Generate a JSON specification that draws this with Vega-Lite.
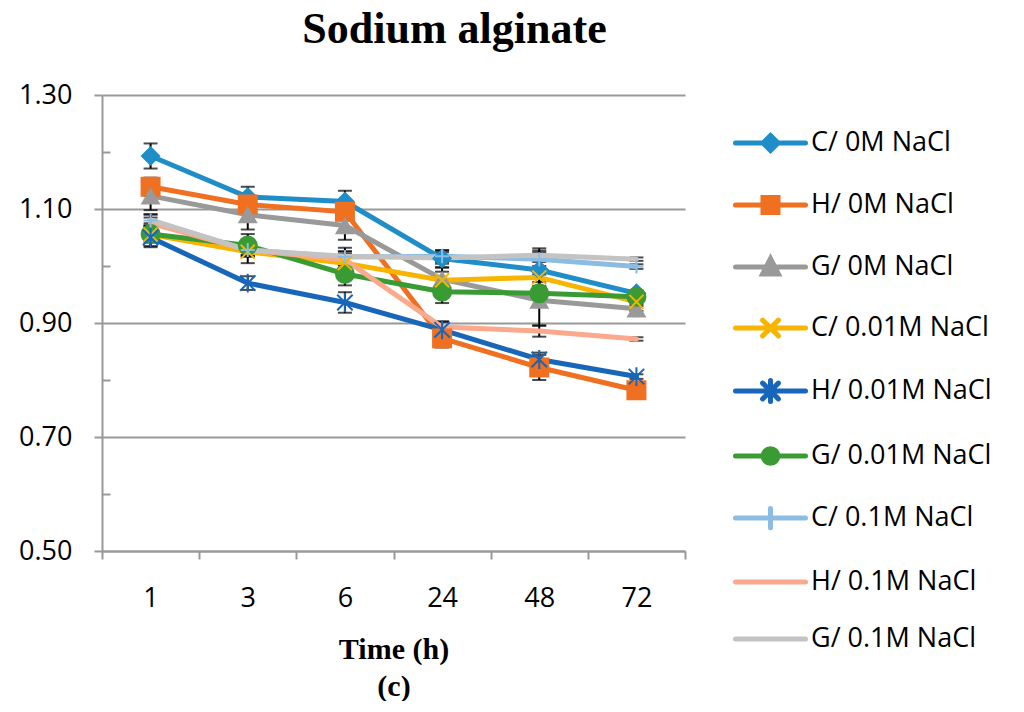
{
  "$schema": "https://vega.github.io/schema/vega-lite/v6.json",
  "width": 583,
  "height": 456,
  "padding": {"left": 18, "top": 8, "right": 0, "bottom": 0},
  "background": "white",
  "title": {
    "text": "Sodium alginate",
    "font": "Liberation Serif",
    "fontSize": 44,
    "fontWeight": "bold",
    "color": "black",
    "anchor": "middle",
    "dx": 61,
    "offset": 29
  },
  "config": {"view": {"stroke": null}},
  "data": {
    "values": [
      {"time": 1, "series": "C/ 0M NaCl", "value": 1.193, "err": 0.022},
      {"time": 3, "series": "C/ 0M NaCl", "value": 1.121, "err": 0.018},
      {"time": 6, "series": "C/ 0M NaCl", "value": 1.113, "err": 0.019},
      {"time": 24, "series": "C/ 0M NaCl", "value": 1.013, "err": 0.015},
      {"time": 48, "series": "C/ 0M NaCl", "value": 0.993, "err": 0.034},
      {"time": 72, "series": "C/ 0M NaCl", "value": 0.952, "err": 0.005},
      {"time": 1, "series": "H/ 0M NaCl", "value": 1.139, "err": 0.016},
      {"time": 3, "series": "H/ 0M NaCl", "value": 1.108, "err": 0.015},
      {"time": 6, "series": "H/ 0M NaCl", "value": 1.095, "err": 0.013},
      {"time": 24, "series": "H/ 0M NaCl", "value": 0.873, "err": 0.016},
      {"time": 48, "series": "H/ 0M NaCl", "value": 0.822, "err": 0.022},
      {"time": 72, "series": "H/ 0M NaCl", "value": 0.782, "err": 0.004},
      {"time": 1, "series": "G/ 0M NaCl", "value": 1.123, "err": 0.025},
      {"time": 3, "series": "G/ 0M NaCl", "value": 1.09, "err": 0.026},
      {"time": 6, "series": "G/ 0M NaCl", "value": 1.071, "err": 0.025},
      {"time": 24, "series": "G/ 0M NaCl", "value": 0.977, "err": 0.02},
      {"time": 48, "series": "G/ 0M NaCl", "value": 0.94, "err": 0.045},
      {"time": 72, "series": "G/ 0M NaCl", "value": 0.925, "err": 0.004},
      {"time": 1, "series": "C/ 0.01M NaCl", "value": 1.055, "err": 0.02},
      {"time": 3, "series": "C/ 0.01M NaCl", "value": 1.025, "err": 0.02},
      {"time": 6, "series": "C/ 0.01M NaCl", "value": 1.005, "err": 0.02},
      {"time": 24, "series": "C/ 0.01M NaCl", "value": 0.975, "err": 0.015},
      {"time": 48, "series": "C/ 0.01M NaCl", "value": 0.98, "err": 0.015},
      {"time": 72, "series": "C/ 0.01M NaCl", "value": 0.937, "err": 0.005},
      {"time": 1, "series": "H/ 0.01M NaCl", "value": 1.05, "err": 0.017},
      {"time": 3, "series": "H/ 0.01M NaCl", "value": 0.97, "err": 0.012},
      {"time": 6, "series": "H/ 0.01M NaCl", "value": 0.936, "err": 0.018},
      {"time": 24, "series": "H/ 0.01M NaCl", "value": 0.888, "err": 0.014},
      {"time": 48, "series": "H/ 0.01M NaCl", "value": 0.836, "err": 0.012},
      {"time": 72, "series": "H/ 0.01M NaCl", "value": 0.806, "err": 0.004},
      {"time": 1, "series": "G/ 0.01M NaCl", "value": 1.056, "err": 0.015},
      {"time": 3, "series": "G/ 0.01M NaCl", "value": 1.036, "err": 0.02},
      {"time": 6, "series": "G/ 0.01M NaCl", "value": 0.986, "err": 0.02},
      {"time": 24, "series": "G/ 0.01M NaCl", "value": 0.955, "err": 0.02},
      {"time": 48, "series": "G/ 0.01M NaCl", "value": 0.952, "err": 0.02},
      {"time": 72, "series": "G/ 0.01M NaCl", "value": 0.946, "err": 0.005},
      {"time": 1, "series": "C/ 0.1M NaCl", "value": 1.08, "err": 0.01},
      {"time": 3, "series": "C/ 0.1M NaCl", "value": 1.028, "err": 0.01},
      {"time": 6, "series": "C/ 0.1M NaCl", "value": 1.016, "err": 0.01},
      {"time": 24, "series": "C/ 0.1M NaCl", "value": 1.017, "err": 0.01},
      {"time": 48, "series": "C/ 0.1M NaCl", "value": 1.012, "err": 0.012},
      {"time": 72, "series": "C/ 0.1M NaCl", "value": 0.999, "err": 0.004},
      {"time": 1, "series": "H/ 0.1M NaCl", "value": 1.075, "err": 0.01},
      {"time": 3, "series": "H/ 0.1M NaCl", "value": 1.028, "err": 0.01},
      {"time": 6, "series": "H/ 0.1M NaCl", "value": 1.011, "err": 0.01},
      {"time": 24, "series": "H/ 0.1M NaCl", "value": 0.893, "err": 0.01},
      {"time": 48, "series": "H/ 0.1M NaCl", "value": 0.886, "err": 0.01},
      {"time": 72, "series": "H/ 0.1M NaCl", "value": 0.872, "err": 0.003},
      {"time": 1, "series": "G/ 0.1M NaCl", "value": 1.081, "err": 0.01},
      {"time": 3, "series": "G/ 0.1M NaCl", "value": 1.028, "err": 0.008},
      {"time": 6, "series": "G/ 0.1M NaCl", "value": 1.017, "err": 0.015},
      {"time": 24, "series": "G/ 0.1M NaCl", "value": 1.014, "err": 0.01},
      {"time": 48, "series": "G/ 0.1M NaCl", "value": 1.019, "err": 0.012},
      {"time": 72, "series": "G/ 0.1M NaCl", "value": 1.012, "err": 0.003}
    ]
  },
  "encoding": {
    "x": {
      "field": "time",
      "type": "ordinal",
      "scale": {"type": "band", "paddingInner": 0, "paddingOuter": 0},
      "axis": {
        "title": ["Time (h)", "(c)"],
        "titleFont": "Liberation Serif",
        "titleFontWeight": "bold",
        "titleFontSize": 30,
        "titleColor": "black",
        "titlePadding": 23,
        "titleLineHeight": 37,
        "labelAngle": 0,
        "labelFont": "Open Sans",
        "labelFontSize": 27,
        "labelColor": "black",
        "labelPadding": 26,
        "tickBand": "extent",
        "tickSize": 8,
        "tickColor": "#999999",
        "tickWidth": 2,
        "domainColor": "#999999",
        "domainWidth": 2,
        "grid": false
      }
    },
    "y": {
      "field": "value",
      "type": "quantitative",
      "scale": {"domain": [0.5, 1.3], "nice": false, "zero": false},
      "axis": {
        "title": null,
        "values": [0.5, 0.6, 0.7, 0.8, 0.9, 1.0, 1.1, 1.2, 1.3],
        "labelExpr": "round(datum.value * 10) % 2 == 1 ? format(datum.value, '.2f') : ''",
        "labelFont": "Open Sans",
        "labelFontSize": 27,
        "labelColor": "black",
        "labelPadding": 22,
        "tickColor": "#999999",
        "tickWidth": 2,
        "tickSize": {"condition": {"test": "round(datum.value * 10) % 2 == 0", "value": -8}, "value": 8},
        "domainColor": "#999999",
        "domainWidth": 2,
        "gridColor": "#999999",
        "gridWidth": 2,
        "gridOpacity": {"condition": {"test": "round(datum.value * 10) % 2 == 0", "value": 0}, "value": 1}
      }
    }
  },
  "layer": [
    {
      "mark": {"type": "errorbar", "ticks": true, "size": 14, "thickness": 2, "color": "black"},
      "encoding": {
        "y": {"field": "value", "type": "quantitative"},
        "yError": {"field": "err"}
      }
    },
    {
      "mark": {"type": "line", "strokeWidth": 5, "strokeCap": "round"},
      "encoding": {
        "color": {
          "field": "series",
          "type": "nominal",
          "scale": {
            "domain": ["C/ 0M NaCl", "H/ 0M NaCl", "G/ 0M NaCl", "C/ 0.01M NaCl", "H/ 0.01M NaCl", "G/ 0.01M NaCl", "C/ 0.1M NaCl", "H/ 0.1M NaCl", "G/ 0.1M NaCl"],
            "range": ["#1f8ec8", "#f07022", "#999999", "#f7b500", "#1866b9", "#3a9b35", "#8bbde4", "#fba98d", "#c3c3c3"]
          },
          "legend": {
            "title": null,
            "orient": "right",
            "offset": 20,
            "padding": 28,
            "labelFont": "Open Sans",
            "labelFontSize": 27,
            "labelColor": "black",
            "labelLimit": 0,
            "labelOffset": 38,
            "symbolType": "stroke",
            "symbolSize": 1225,
            "symbolStrokeWidth": 5,
            "rowPadding": 24,
            "encode": {
              "symbols": {
                "update": {
                  "shape": {"signal": "['M-1,0H3M1,-0.43L1.43,0L1,0.43L0.57,0Z', 'M-1,0H3M0.57,-0.43H1.43V0.43H0.57Z', 'M-1,0H3M1,-0.48L1.45,0.4H0.55Z', 'M-1,0H3M0.55,-0.45L1.45,0.45M0.55,0.45L1.45,-0.45', 'M-1,0H3M0.55,-0.45L1.45,0.45M0.55,0.45L1.45,-0.45M1,-0.6V0.6', 'M-1,0H3M1.42,0A0.42,0.42 0 1,1 0.58,0A0.42,0.42 0 1,1 1.42,0Z', 'M-1,0H3M1,-0.55V0.55', 'M-1,0H3', 'M-1,0H3'][indexof(['C/ 0M NaCl', 'H/ 0M NaCl', 'G/ 0M NaCl', 'C/ 0.01M NaCl', 'H/ 0.01M NaCl', 'G/ 0.01M NaCl', 'C/ 0.1M NaCl', 'H/ 0.1M NaCl', 'G/ 0.1M NaCl'], datum.value)]"},
                  "fill": {"scale": "color", "field": "value"},
                  "stroke": {"scale": "color", "field": "value"},
                  "strokeCap": {"value": "round"}
                }
              }
            }
          }
        }
      }
    },
    {
      "transform": [{"filter": {"field": "series", "oneOf": ["C/ 0M NaCl", "H/ 0M NaCl", "G/ 0M NaCl", "G/ 0.01M NaCl"]}}],
      "mark": {"type": "point", "filled": true, "opacity": 1, "size": 400},
      "encoding": {
        "color": {"field": "series", "type": "nominal", "legend": null},
        "shape": {
          "field": "series",
          "type": "nominal",
          "legend": null,
          "scale": {
            "domain": ["C/ 0M NaCl", "H/ 0M NaCl", "G/ 0M NaCl", "C/ 0.01M NaCl", "H/ 0.01M NaCl", "G/ 0.01M NaCl", "C/ 0.1M NaCl"],
            "range": ["M0,-1L1,0L0,1L-1,0Z", "square", "triangle-up", "M-1,-1L1,1M-1,1L1,-1", "M-1.1,-1.1L1.1,1.1M-1.1,1.1L1.1,-1.1M0,-1.35V1.35", "circle", "M0,-1V1M-1,0H1"]
          }
        }
      }
    },
    {
      "transform": [{"filter": {"field": "series", "oneOf": ["C/ 0.01M NaCl", "H/ 0.01M NaCl", "C/ 0.1M NaCl"]}}],
      "mark": {"type": "point", "filled": false, "opacity": 1, "size": 196, "strokeWidth": 2},
      "encoding": {
        "color": {"field": "series", "type": "nominal", "legend": null},
        "shape": {"field": "series", "type": "nominal", "legend": null}
      }
    }
  ]
}
